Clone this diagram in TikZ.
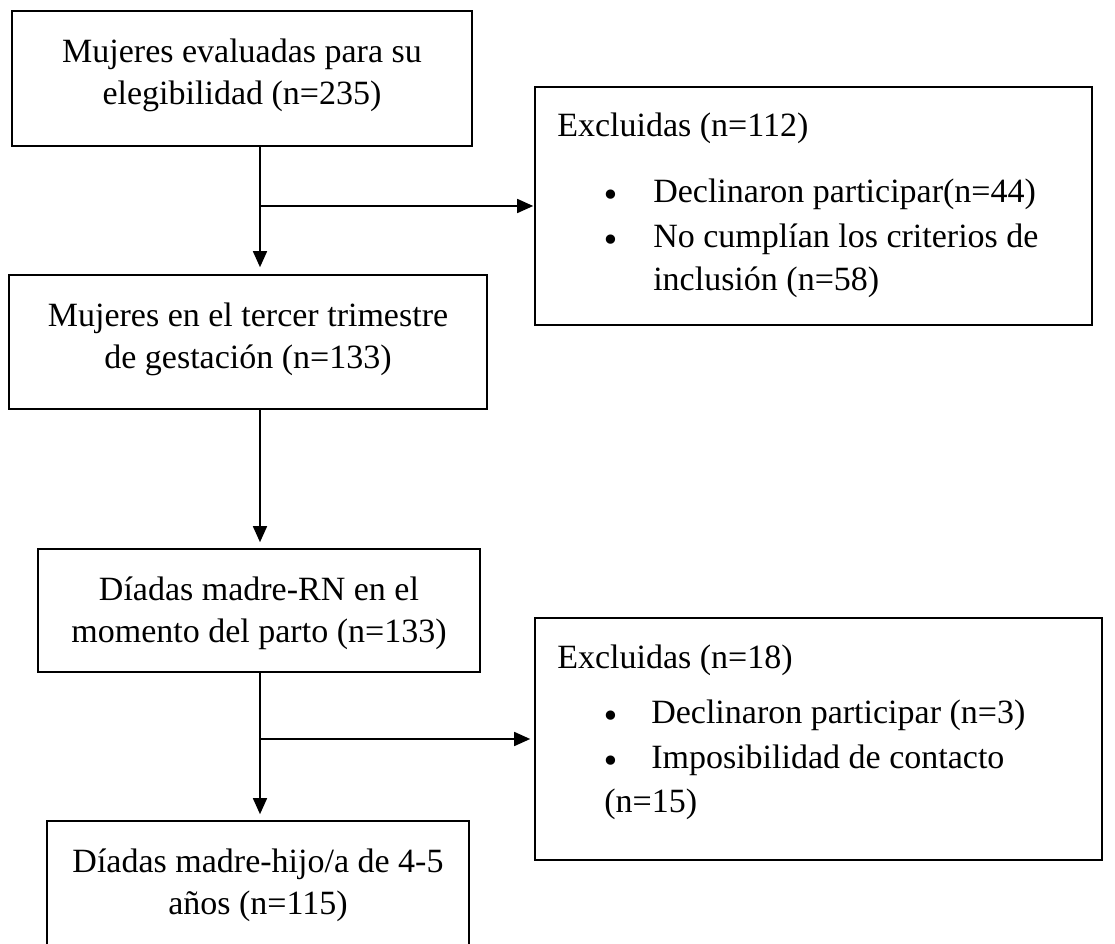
\documentclass[tikz,border=0pt]{standalone}
\usepackage{fontspec}
\setmainfont{Liberation Serif}
\newfontfamily\bulfont{DejaVu Sans}
\usetikzlibrary{arrows.meta}
\begin{document}
\begin{tikzpicture}[x=0.75pt,y=-0.75pt,
  boxnode/.style={draw=black, line width=1.2pt, inner sep=0pt, fill=white},
  txt/.style={inner sep=0pt, font=\fontsize{25.5}{31.5}\selectfont},
  ctxt/.style={txt, align=center},
  ltxt/.style={txt, anchor=base west},
  bul/.style={inner sep=0pt, anchor=base west, font=\bulfont\fontsize{24}{24}\selectfont, yshift=-3pt},
  arr/.style={line width=1.2pt, -{Triangle[length=12pt,width=10.5pt]}},
  plain/.style={line width=1.2pt}]
\useasboundingbox (0,0) rectangle (1115,944);
\clip (0,0) rectangle (1115,944);
\fill[white] (0,0) rectangle (1115,944);

% boxes
\node[boxnode, minimum width=345pt, minimum height=101.25pt] (b1) at (242,78.5) {};
\node[boxnode, minimum width=417.75pt, minimum height=178.5pt] (b2) at (813.5,206) {};
\node[boxnode, minimum width=358.5pt, minimum height=100.5pt] (b3) at (248,342) {};
\node[boxnode, minimum width=331.5pt, minimum height=92.25pt] (b4) at (259,610.5) {};
\node[boxnode, minimum width=425.25pt, minimum height=181.5pt] (b5) at (818.5,739) {};
\node[boxnode, minimum width=316.5pt, minimum height=104.25pt] (b6) at (258,890.5) {};

% centred texts
\node[ctxt] (t1) at (242,75.6) {\strut Mujeres evaluadas para su\\ elegibilidad (n=235)\strut};
\node[ctxt] (t3) at (248,339.1) {\strut Mujeres en el tercer trimestre\\ de gestación (n=133)\strut};
\node[ctxt] (t4) at (259,613.1) {\strut Díadas madre-RN en el\\ momento del parto (n=133)\strut};
\node[ctxt] (t6) at (258,885.1) {\strut Díadas madre-hijo/a de 4-5\\ años (n=115)\strut};

% exclusion box 1
\node[ltxt] (e1) at (557,137) {Excluidas (n=112)};
\node[bul] (e1ba) at (601,203) {•};
\node[ltxt] (e1a) at (653,203) {Declinaron participar(n=44)};
\node[bul] (e1bb) at (601,248) {•};
\node[ltxt] (e1b) at (653,248) {No cumplían los criterios de};
\node[ltxt] (e1c) at (653,291) {inclusión (n=58)};

% exclusion box 2
\node[ltxt] (e2) at (557,669) {Excluidas (n=18)};
\node[bul] (e2ba) at (601,724) {•};
\node[ltxt] (e2a) at (651,724) {Declinaron participar (n=3)};
\node[bul] (e2bb) at (601,769) {•};
\node[ltxt] (e2b) at (651,769) {Imposibilidad de contacto};
\node[ltxt] (e2c) at (604,813) {(n=15)};

% spine
\coordinate (sp) at (260,0);

% connectors
\draw[arr, shorten >=5.25pt] (b1.south -| sp) -- (b3.north -| sp);
\draw[arr, shorten >=0.75pt] (b2.west -| sp) -- (b2.west);
\draw[arr, shorten >=4.5pt] (b3.south -| sp) -- (b4.north -| sp);
\draw[arr, shorten >=4.5pt] (b4.south -| sp) -- (b6.north -| sp);
\draw[arr, shorten >=3pt] (b5.west -| sp) -- (b5.west);
\end{tikzpicture}
\end{document}
